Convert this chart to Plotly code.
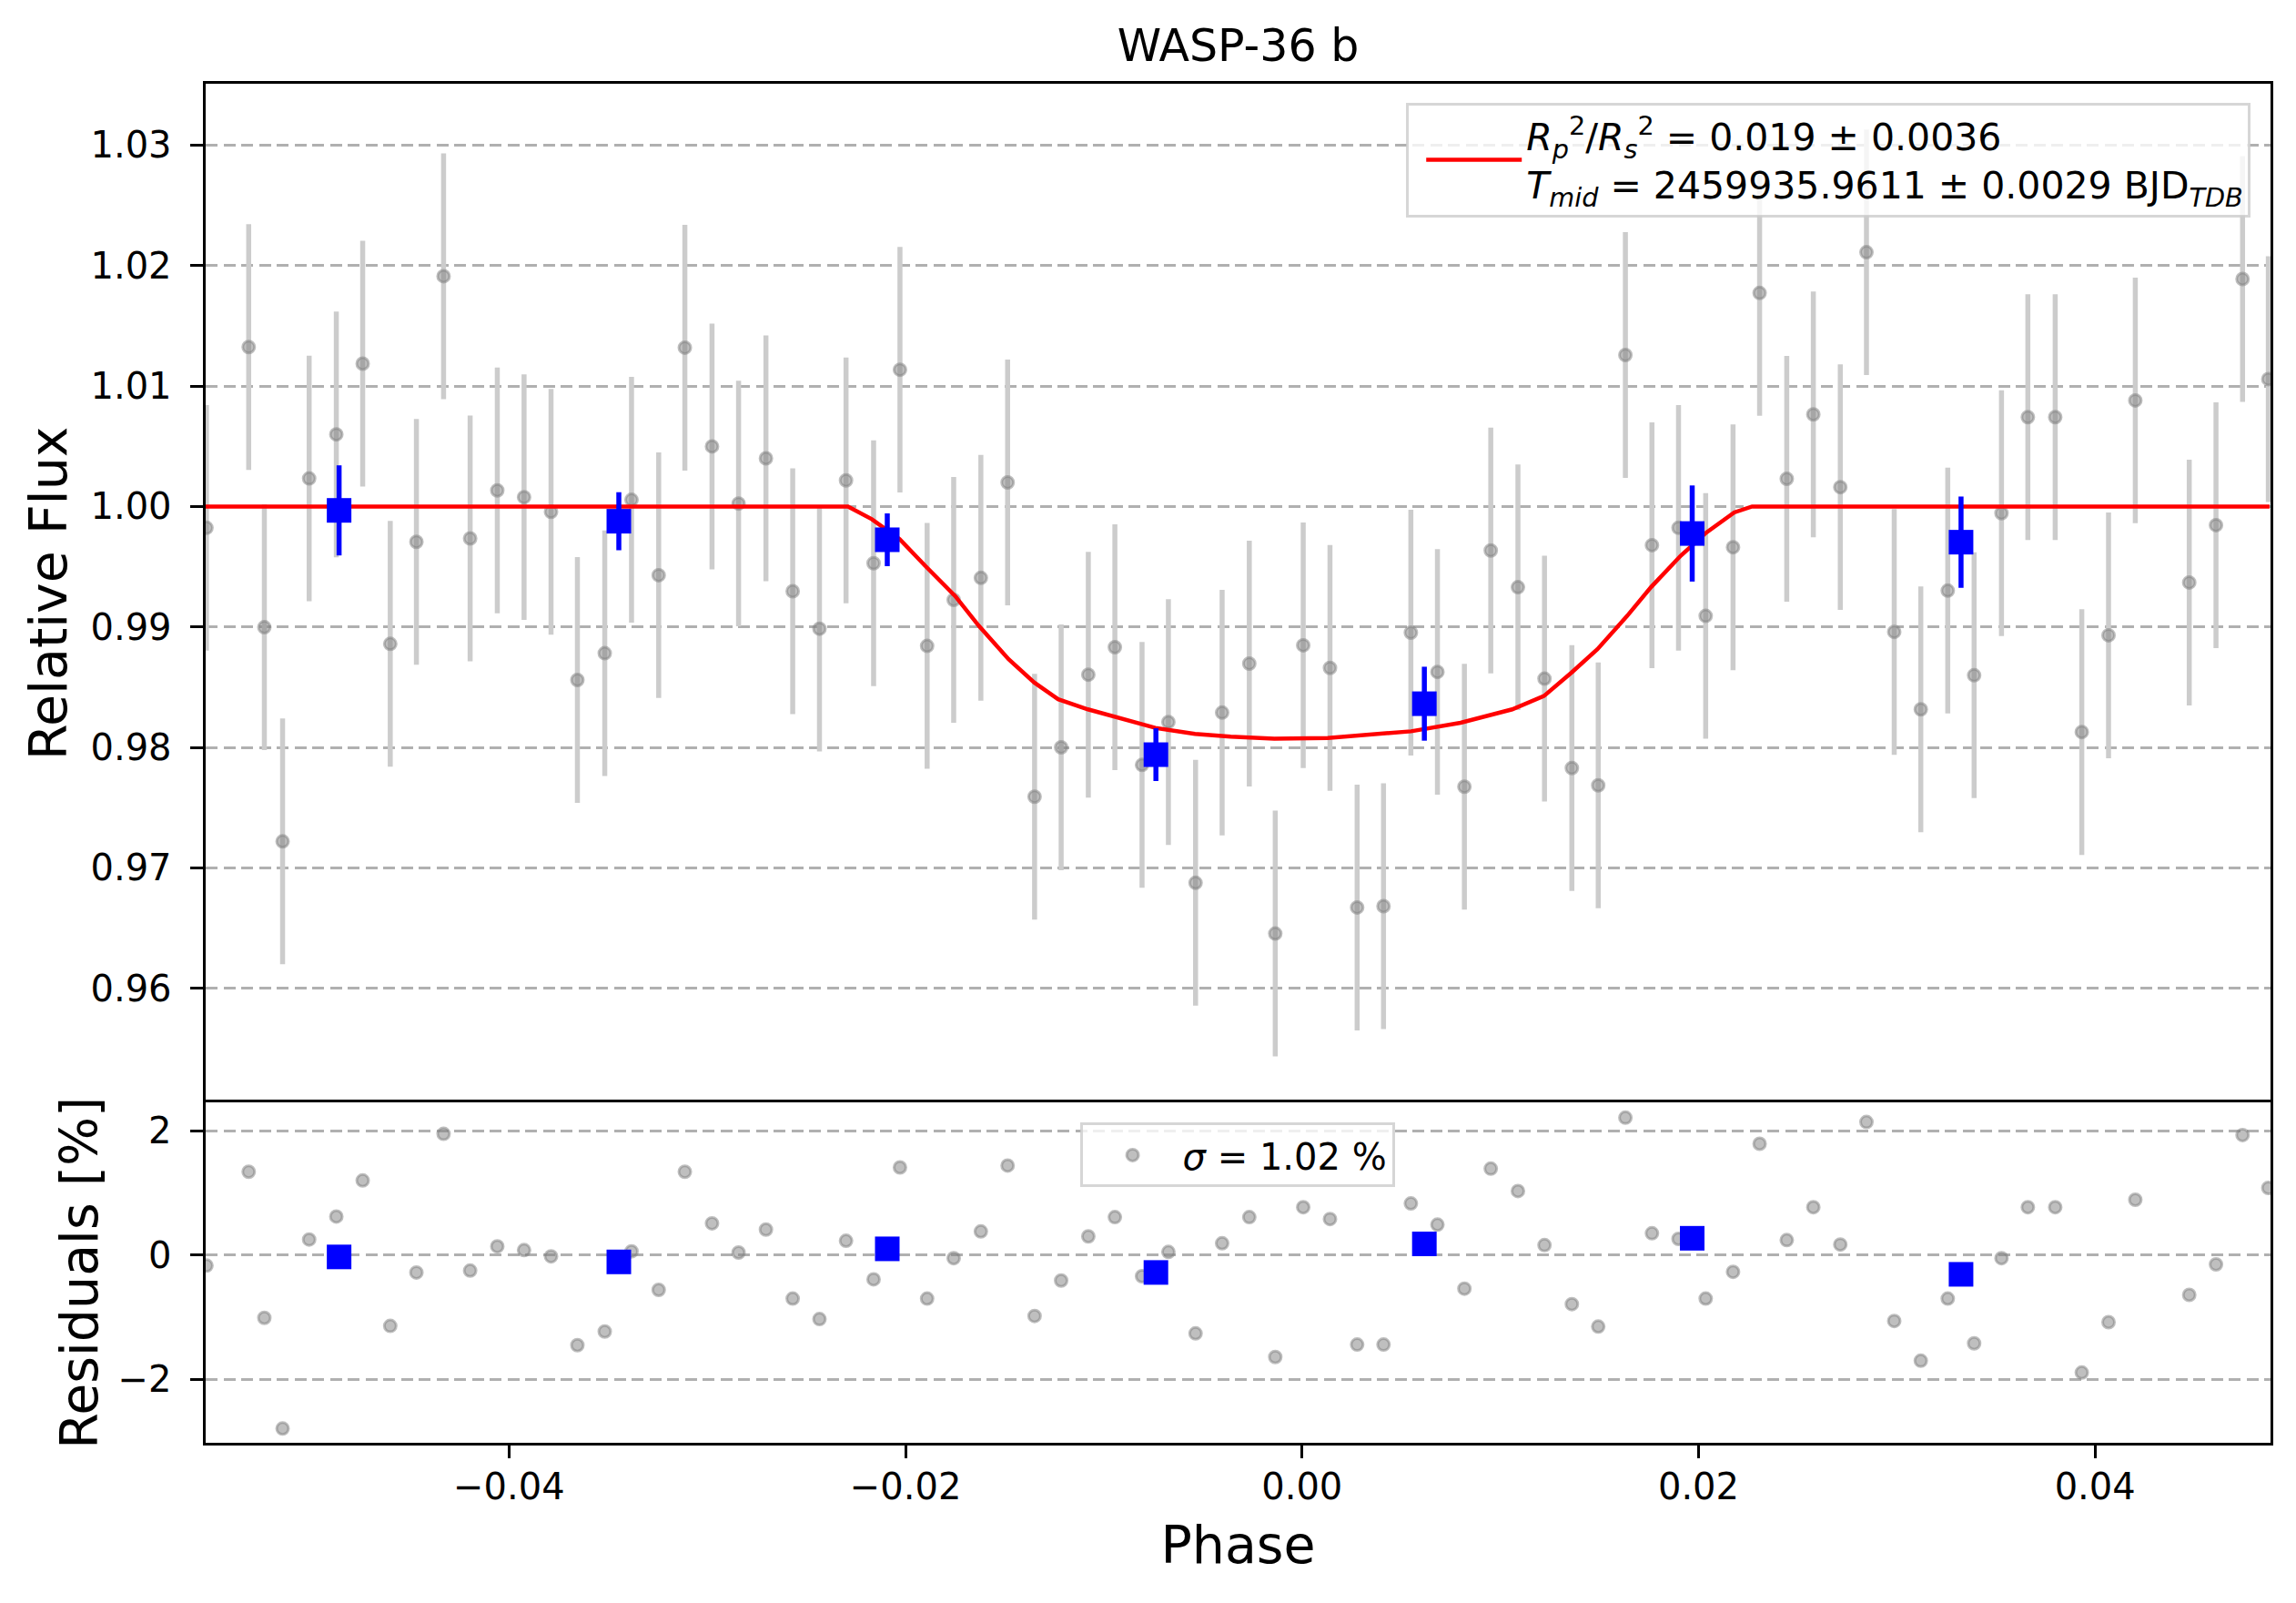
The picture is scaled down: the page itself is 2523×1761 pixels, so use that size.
import plotly.graph_objects as go

# ---------------- data ----------------
phase = [-0.05526, -0.05313, -0.05234, -0.05142, -0.05008, -0.04871, -0.04738, -0.04599,
         -0.04467, -0.04330, -0.04196, -0.04059, -0.03924, -0.03788, -0.03655, -0.03517,
         -0.03382, -0.03245, -0.03113, -0.02976, -0.02842, -0.02704, -0.02569, -0.02434,
         -0.02300, -0.02161, -0.02028, -0.01891, -0.01757, -0.01620, -0.01485, -0.01349,
         -0.01215, -0.01078, -0.00944, -0.00807, -0.00674, -0.00537, -0.00403, -0.00266,
         -0.00135, 0.00006, 0.00141, 0.00278, 0.00411, 0.00549, 0.00683, 0.00819,
         0.00952, 0.01089, 0.01223, 0.01361, 0.01494, 0.01631, 0.01765, 0.01899,
         0.02036, 0.02174, 0.02308, 0.02445, 0.02579, 0.02715, 0.02847, 0.02987,
         0.03121, 0.03257, 0.03390, 0.03528, 0.03661, 0.03799, 0.03933, 0.04068,
         0.04203, 0.04475, 0.04610, 0.04744, 0.04874]

flux = [0.99823, 1.01324, 0.98998, 0.97220, 1.00233, 1.00599, 1.01186, 0.98860,
        0.99707, 1.01912, 0.99735, 1.00134, 1.00078, 0.99956, 0.98560, 0.98782,
        1.00056, 0.99430, 1.01319, 1.00499, 1.00025, 1.00400, 0.99297, 0.98986,
        1.00217, 0.99529, 1.01136, 0.98843, 0.99225, 0.99408, 1.00200, 0.97591,
        0.98001, 0.98604, 0.98832, 0.97855, 0.98211, 0.96876, 0.98289, 0.98696,
        0.96455, 0.98848, 0.98660, 0.96671, 0.96682, 0.98953, 0.98627, 0.97674,
        0.99635, 0.99330, 0.98571, 0.97829, 0.97685, 1.01258, 0.99679, 0.99823,
        0.99092, 0.99662, 1.01773, 1.00230, 1.00765, 1.00161, 1.02111, 0.98959,
        0.98316, 0.99302, 0.98599, 0.99945, 1.00742, 1.00742, 0.98128, 0.98931,
        1.00881, 0.99369, 0.99845, 1.01889, 1.01058]

flux_err = [0.0102] * len(flux)

residuals = [-0.17, 1.34, -1.01, -2.79, 0.25, 0.62, 1.20, -1.14,
             -0.28, 1.95, -0.25, 0.14, 0.08, -0.02, -1.45, -1.23,
             0.06, -0.56, 1.34, 0.51, 0.04, 0.41, -0.70, -1.03,
             0.23, -0.39, 1.41, -0.70, -0.05, 0.38, 1.44, -0.98,
             -0.41, 0.30, 0.61, -0.34, 0.05, -1.26, 0.19, 0.61,
             -1.64, 0.77, 0.58, -1.44, -1.44, 0.83, 0.49, -0.54,
             1.39, 1.03, 0.16, -0.79, -1.15, 2.21, 0.35, 0.26,
             -0.70, -0.27, 1.79, 0.24, 0.77, 0.17, 2.14, -1.06,
             -1.70, -0.70, -1.42, -0.05, 0.77, 0.77, -1.89, -1.08,
             0.89, -0.64, -0.15, 1.93, 1.08]

model_phase = [-0.0553, -0.0229, -0.0217, -0.0203, -0.0190, -0.0175, -0.0163, -0.0148,
               -0.0135, -0.0123, -0.0108, -0.0094, -0.0074, -0.0054, -0.0036, -0.0014,
               0.0013, 0.0055, 0.0080, 0.0106, 0.0122, 0.0136, 0.0149, 0.0164,
               0.0176, 0.0191, 0.0204, 0.0218, 0.0227, 0.0488]
model_flux = [1.0, 1.0, 0.99895, 0.99729, 0.99507, 0.99258, 0.99009, 0.98732,
              0.98538, 0.98400, 0.98316, 0.98250, 0.98162, 0.98112, 0.98089, 0.98073,
              0.98078, 0.98134, 0.98205, 0.98316, 0.98427, 0.98622, 0.98815, 0.99092,
              0.99330, 0.99591, 0.99785, 0.99951, 1.0, 1.0]

bin_phase = [-0.04857, -0.03446, -0.02092, -0.00737, 0.00617, 0.01968, 0.03324]
bin_flux = [0.99968, 0.99878, 0.99724, 0.97940, 0.98363, 0.99776, 0.99704]
bin_err = [0.00374, 0.00241, 0.00219, 0.00219, 0.00307, 0.00399, 0.00379]
bin_resid = [-0.03, -0.11, 0.10, -0.28, 0.18, 0.27, -0.31]

title_text = "WASP-36 b"
legend_model = ("<i>R</i><sub><i>p</i></sub><sup>2</sup>/<i>R</i><sub><i>s</i></sub><sup>2</sup>"
                " = 0.019 ± 0.0036<br><i>T</i><sub><i>mid</i></sub>"
                " = 2459935.9611 ± 0.0029 BJD<sub><i>TDB</i></sub>")
legend_sigma = "<i>σ</i> = 1.02 %"
flux_ticks = [0.96, 0.97, 0.98, 0.99, 1.00, 1.01, 1.02, 1.03]
phase_ticks = [-0.04, -0.02, 0.00, 0.02, 0.04]
resid_ticks = [-2, 0, 2]

# ---------------- styling ----------------
FONT = "DejaVu Sans"
W, H = 2523, 1761
ML, MR, MT, MB = 226, 28, 92, 176
SPLIT = 0.2502
GRAY_MK = "rgba(128,128,128,0.5)"
GRID = "#b0b0b0"
GRIDDASH = "13px,6.5px"
XR = [-0.0553, 0.04885]

fig = go.Figure()

fig.add_trace(go.Scatter(
    x=phase, y=flux, mode="markers", xaxis="x", yaxis="y", showlegend=False,
    marker=dict(size=13, color=GRAY_MK, line=dict(color=GRAY_MK, width=3)),
    error_y=dict(type="data", array=flux_err, visible=True, color="#cccccc",
                 thickness=5.5, width=0),
))
fig.add_trace(go.Scatter(
    x=model_phase, y=model_flux, mode="lines", xaxis="x", yaxis="y",
    name=legend_model, legend="legend",
    line=dict(color="red", width=4.5),
))
fig.add_trace(go.Scatter(
    x=bin_phase, y=bin_flux, mode="markers", xaxis="x", yaxis="y", showlegend=False,
    marker=dict(symbol="square", size=27, color="blue"),
    error_y=dict(type="data", array=bin_err, visible=True, color="blue",
                 thickness=5.5, width=0),
))
fig.add_trace(go.Scatter(
    x=phase, y=residuals, mode="markers", xaxis="x2", yaxis="y2",
    name=legend_sigma, legend="legend2",
    marker=dict(size=13, color=GRAY_MK, line=dict(color=GRAY_MK, width=3)),
))
fig.add_trace(go.Scatter(
    x=bin_phase, y=bin_resid, mode="markers", xaxis="x2", yaxis="y2", showlegend=False,
    marker=dict(symbol="square", size=27, color="blue"),
))

frame = dict(showline=True, linecolor="black", linewidth=2.7, mirror=True, zeroline=False)
ticks = dict(tickfont=dict(family=FONT, size=40, color="black"),
             tickcolor="black", tickwidth=2.7, ticklen=14.6, ticks="outside")
label_font = dict(family=FONT, size=57, color="black")

fig.update_layout(
    width=W, height=H,
    margin=dict(l=ML, r=MR, t=MT, b=MB, pad=0),
    paper_bgcolor="white", plot_bgcolor="white",
    font=dict(family=FONT, size=40, color="black"),
    title=dict(text=title_text, x=0.5, xref="paper", xanchor="center",
               y=1 - 50 / H, yref="container", yanchor="middle",
               font=dict(family=FONT, size=49, color="black")),
    xaxis=dict(domain=[0, 1], anchor="y", range=XR, side="top",
               showticklabels=False, ticks="", showgrid=False,
               showline=True, linecolor="black", linewidth=2.7, mirror=False,
               zeroline=False),
    yaxis=dict(domain=[SPLIT, 1], anchor="x", range=[0.9505, 1.0351],
               tickvals=flux_ticks, tickformat=".2f",
               showgrid=True, gridcolor=GRID, gridwidth=2.6, griddash=GRIDDASH,
               ticklabelstandoff=12,
               title=dict(text="Relative Flux", standoff=8, font=label_font),
               **frame, **ticks),
    xaxis2=dict(domain=[0, 1], anchor="y2", range=XR, tickvals=phase_ticks,
                tickformat=".2f", showgrid=False,
                ticklabelstandoff=-3,
                title=dict(text="Phase", standoff=22, font=label_font),
                **frame, **ticks),
    yaxis2=dict(domain=[0, SPLIT], anchor="x2", range=[-3.02, 2.45],
                tickvals=resid_ticks, tickformat="d",
                showgrid=True, gridcolor=GRID, gridwidth=2.6, griddash=GRIDDASH,
                ticklabelstandoff=12,
                title=dict(text="Residuals [%]", standoff=4, font=label_font),
                **frame, **ticks),
    legend=dict(x=0.9904, y=0.9861, xanchor="right", yanchor="top",
                xref="paper", yref="paper",
                bgcolor="rgba(255,255,255,0.8)", bordercolor="rgba(204,204,204,0.8)",
                borderwidth=3, font=dict(family=FONT, size=41, color="black"),
                itemwidth=105, indentation=14),
    legend2=dict(x=0.4996, y=0.2355, xanchor="center", yanchor="top",
                 xref="paper", yref="paper",
                 bgcolor="rgba(255,255,255,0.8)", bordercolor="rgba(204,204,204,0.8)",
                 borderwidth=3, font=dict(family=FONT, size=40, color="black"),
                 itemwidth=100),
)

fig.write_html("out.html",
               config={"displayModeBar": False},
               post_script="document.body.style.margin='0';document.body.style.overflow='hidden';")
